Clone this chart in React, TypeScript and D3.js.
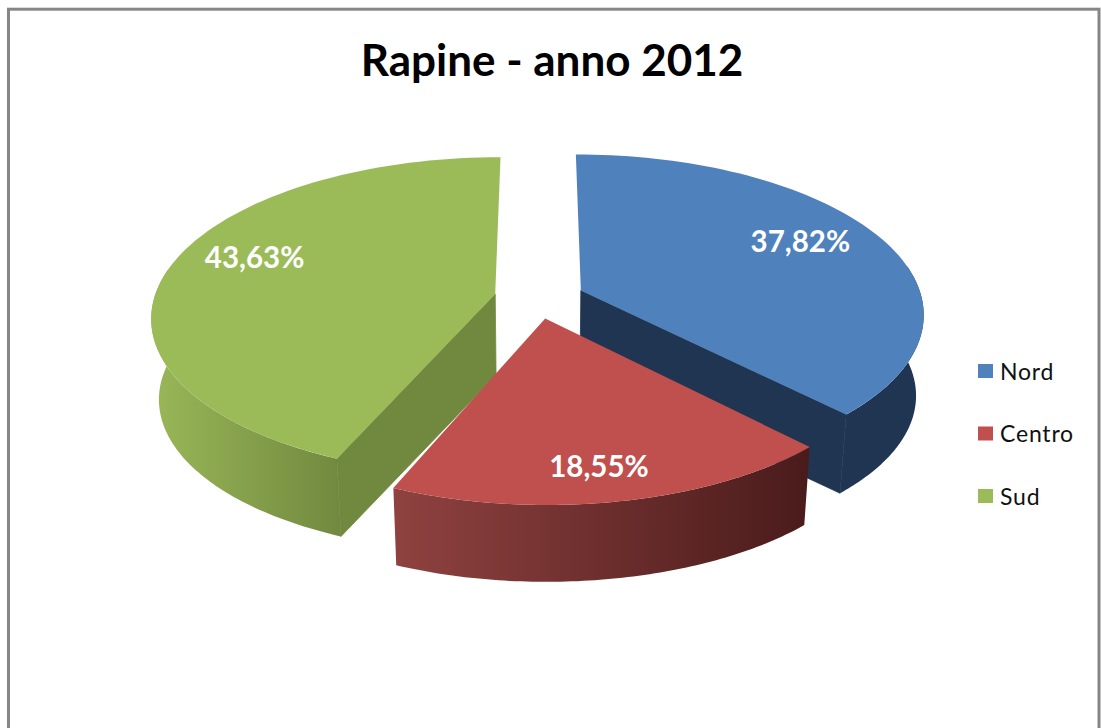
import React from "react";
import * as d3 from "d3";

const categories = ["Nord", "Centro", "Sud"];
const values = [37.82, 18.55, 43.63];
const labels = ["37,82%", "18,55%", "43,63%"];
const topColors = ["#4f81bd", "#c0504d", "#9bbb59"];
const cutColors = ["#1f3552", "#4f1f1e", "#71893f"];
const wallStops = [
  ["#1f3552", "#1f3552"],
  ["#8f4240", "#4a1b1b"],
  ["#9ab758", "#71893f"],
];
const title = "Rapine - anno 2012";

const W = 1101, H = 728;
const CX = 540, CY = 298;
const A = 157, B = 341, K = 0.14;
const EXPLODE = 0.13;
const DEPTH = 81, SHRINK = 0.98;
const FONT = "Lato, 'Open Sans', sans-serif";

type Pt = [number, number];
const sliceShift = [0, -3, -1.5];
const sliceRadius = [1, 0.985, 1];
const project = (X: number, Y: number, low = false, dx = 0): Pt => {
  const d = 1 - K * Y;
  const s = low ? SHRINK : 1;
  return [CX + dx + (s * B * X) / d, CY + (low ? DEPTH : 0) + (s * A * Y) / d];
};
const line = d3.line<Pt>();

const arcs = d3.pie<number>().sort(null)(values);
const bisector = (a: d3.PieArcDatum<number>) => (a.startAngle + a.endAngle) / 2;
const offset = (a: d3.PieArcDatum<number>): Pt => [
  EXPLODE * Math.sin(bisector(a)),
  -EXPLODE * Math.cos(bisector(a)),
];
const rim = (a: d3.PieArcDatum<number>, t0: number, t1: number, low: boolean, i: number): Pt[] => {
  const [ox, oy] = offset(a);
  const r = sliceRadius[i];
  const n = 80;
  return d3.range(n + 1).map((k) => {
    const t = t0 + ((t1 - t0) * k) / n;
    return project(ox + r * Math.sin(t), oy - r * Math.cos(t), low, sliceShift[i]);
  });
};

const labelRadial = [0.73, 0.75, 0.74];
const labelNudge = [-9, 13, -15];
// which cut face of a slice looks toward the viewer
const cutEdge = ["end", "none", "start"];

function Slice({ i }: { i: number }) {
  const a = arcs[i];
  const dx = sliceShift[i];
  const [ox, oy] = offset(a);
  const apex = project(ox, oy, false, dx);
  const apexLow = project(ox, oy, true, dx);
  const top = rim(a, a.startAngle, a.endAngle, false, i);
  const lo = Math.max(a.startAngle, Math.PI / 2 - 0.16);
  const hi = Math.min(a.endAngle, (3 * Math.PI) / 2 + 0.16);
  const wallTop = rim(a, lo, hi, false, i);
  const wallLow = rim(a, lo, hi, true, i);
  const wall = [...wallTop, ...wallLow.reverse()];
  const edge = cutEdge[i];
  const t = edge === "end" ? a.endAngle : a.startAngle;
  const cut: Pt[] = [apex, rim(a, t, t, false, i)[0], rim(a, t, t, true, i)[0], apexLow];
  return (
    <g>
      {hi > lo && <path d={(line(wall) || "") + "Z"} fill={`url(#wall${i})`} />}
      {edge !== "none" && (
        <path d={(line(cut) || "") + "Z"} fill={cutColors[i]} stroke={cutColors[i]} strokeWidth={0.8} />
      )}
      <path d={(line([apex, ...top]) || "") + "Z"} fill={topColors[i]} />
    </g>
  );
}

function SliceLabel({ i }: { i: number }) {
  const a = arcs[i];
  const [ox, oy] = offset(a);
  const t = bisector(a);
  const r = labelRadial[i];
  const [x, y] = project(ox + r * Math.sin(t), oy - r * Math.cos(t), false, sliceShift[i]);
  return (
    <text x={x} y={y + labelNudge[i]} textAnchor="middle" dominantBaseline="central"
      fontFamily={FONT} fontWeight={700} fontSize={29.5} fill="#ffffff">
      {labels[i]}
    </text>
  );
}

const legendY = d3.scalePoint<string>().domain(categories).range([371, 496]);

export default function App() {
  return (
    <svg width={W} height={H} viewBox={`0 0 ${W} ${H}`}
      style={{ position: "fixed", left: 0, top: 0, background: "#fff" }}>
      <defs>
        {wallStops.map((s, i) => (
          <linearGradient key={i} id={`wall${i}`} x1="0" x2="1" y1="0" y2="0">
            <stop offset="0" stopColor={s[0]} />
            <stop offset="1" stopColor={s[1]} />
          </linearGradient>
        ))}
      </defs>
      <rect x={8.5} y={9.2} width={1090.5} height={740} fill="#fff" stroke="#868686" strokeWidth={3} />
      <text x={552} y={76} textAnchor="middle" fontFamily={FONT} fontWeight={700} fontSize={44} fill="#000">
        {title}
      </text>
      <Slice i={0} />
      <Slice i={2} />
      <Slice i={1} />
      {categories.map((_, i) => <SliceLabel key={i} i={i} />)}
      {categories.map((c, i) => (
        <g key={c}>
          <rect x={978} y={legendY(c)! - 7} width={15} height={14} fill={topColors[i]} />
          <text x={1000} y={(legendY(c) as number) + 8.5} fontFamily={FONT} fontSize={23}
            letterSpacing={0.8} fill="#111">{c}</text>
        </g>
      ))}
    </svg>
  );
}
